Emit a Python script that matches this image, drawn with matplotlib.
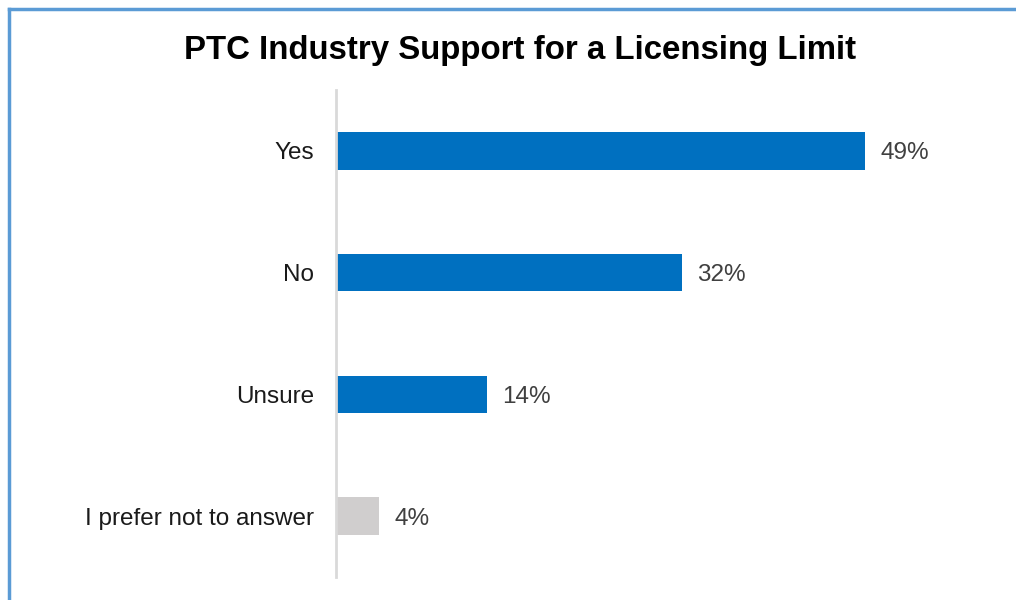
import matplotlib
matplotlib.use("Agg")
import matplotlib.pyplot as plt
from matplotlib.lines import Line2D

categories = ["Yes", "No", "Unsure", "I prefer not to answer"]
values = [49, 32, 14, 4]
bar_colors = ["#0070C0", "#0070C0", "#0070C0", "#D0CECE"]

plt.rcParams["font.family"] = ["Liberation Sans", "DejaVu Sans"]

W, H = 1016, 600
fig = plt.figure(figsize=(W / 100, H / 100), dpi=100)

# light blue frame along top and left
fig.add_artist(Line2D([9 / W, 9 / W], [0, 1 - 9 / H], color="#5B9BD5", lw=2.5))
fig.add_artist(Line2D([9 / W, 1], [1 - 9 / H, 1 - 9 / H], color="#5B9BD5", lw=2.5))

ax_left, ax_right = 336, 1000
ax_top, ax_bottom = 90, 577
ax = fig.add_axes([ax_left / W, (H - ax_bottom) / H,
                   (ax_right - ax_left) / W, (ax_bottom - ax_top) / H])

ypos = list(range(len(categories)))
ax.barh(ypos, values, height=0.31, color=bar_colors)
ax.set_xlim(0, (ax_right - ax_left) / 10.8)
ax.set_ylim(len(categories) - 0.5, -0.5)

for y, v in zip(ypos, values):
    ax.text(v + 1.4, y, f"{v}%", va="center_baseline", ha="left",
            fontsize=17.5, color="#404040")

ax.set_yticks(ypos)
ax.set_yticklabels(categories, fontsize=17.5, color="#1a1a1a")
ax.tick_params(axis="y", length=0, pad=16)
ax.set_xticks([])
for s in ["top", "right", "bottom"]:
    ax.spines[s].set_visible(False)
ax.spines["left"].set_color("#D9D9D9")
ax.spines["left"].set_linewidth(2)

fig.text(520 / W, 1 - 51 / H, "PTC Industry Support for a Licensing Limit",
         ha="center", va="center", fontsize=23.8, fontweight="bold", color="black")

fig.savefig("out.png", dpi=100)
